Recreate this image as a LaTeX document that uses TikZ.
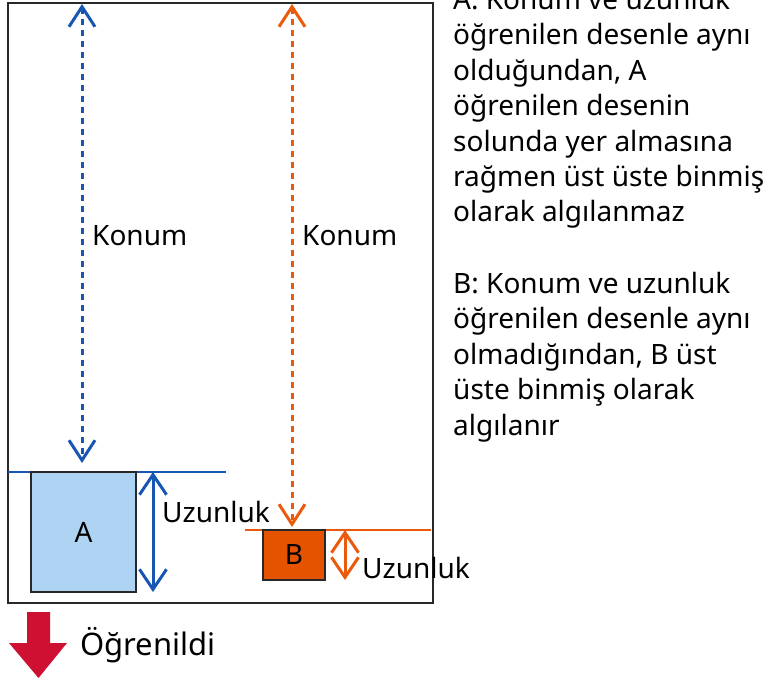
\documentclass[tikz,border=0pt]{standalone}
\usepackage{fontspec}
\setmainfont{Noto Sans}
\usetikzlibrary{arrows.meta, positioning}
\definecolor{posblue}{RGB}{23,86,178}
\definecolor{lightblue}{RGB}{175,211,242}
\definecolor{posorange}{RGB}{234,90,12}
\definecolor{fillorange}{RGB}{229,83,0}
\definecolor{learnred}{RGB}{206,17,50}
\definecolor{framegray}{RGB}{40,40,40}
\tikzset{
  pos arrow/.style={
    {Straight Barb[length=20pt,width=26pt]}-{Straight Barb[length=20pt,width=26pt]},
    line width=3pt,
    dash pattern=on 6pt off 5pt
  },
  len arrow/.style={
    {Straight Barb[length=20pt,width=27pt]}-{Straight Barb[length=20pt,width=27pt]},
    line width=3pt
  },
  edge line/.style={
    line width=2.6pt
  },
  pattern box/.style={
    draw=framegray,
    line width=1.6pt,
    inner sep=0pt,
    font=\fontsize{28}{34}\selectfont
  },
  label text/.style={
    font=\fontsize{28}{34}\selectfont,
    inner sep=0pt
  },
  note text/.style={
    font=\fontsize{28}{35.4}\selectfont,
    align=left,
    inner sep=0pt
  }
}

\begin{document}
\begin{tikzpicture}[x=1pt, y=-1pt]
    \useasboundingbox (0,0) rectangle (779,679);
    % 外框
    \draw[framegray, line width=2.2pt] (8,3) rectangle (433,603);

    % 基准线
    \coordinate (blueLeft) at (8,472);
    \coordinate (blueRight) at (226,472);
    \coordinate (orangeLeft) at (245,530);
    \coordinate (orangeRight) at (431,530);
    \draw[edge line, posblue] (blueLeft) -- (blueRight);
    \draw[edge line, posorange] (orangeLeft) -- (orangeRight);

    % 图案 A 和 B
    \node[pattern box, fill=lightblue, minimum width=105pt, minimum height=120pt] (boxA) at (83.5,532) {A};
    \node[pattern box, fill=fillorange, minimum width=62pt, minimum height=50pt] (boxB) at (294,555) {B};

    % 位置箭头
    \coordinate (blueTop) at (82,4);
    \coordinate (blueBot) at (82,463);
    \draw[pos arrow, posblue] (blueTop) -- (blueBot);
    \node[label text, anchor=base west] (konumA) at (92,245) {Konum};

    \coordinate (orangeTop) at (292,4);
    \coordinate (orangeBot) at (292,527);
    \draw[pos arrow, posorange] (orangeTop) -- (orangeBot);
    \node[label text, anchor=base west] (konumB) at (302,245) {Konum};

    % 长度箭头
    \coordinate (lenATop) at (153,472);
    \coordinate (lenABot) at (153,592);
    \draw[len arrow, posblue] (lenATop) -- (lenABot);
    \node[label text, anchor=base west] (uzunA) at (162,522) {Uzunluk};

    \coordinate (lenBTop) at (345,530);
    \coordinate (lenBBot) at (345,580);
    \draw[len arrow, posorange] (lenBTop) -- (lenBBot);
    \node[label text, anchor=base west] (uzunB) at (362,578) {Uzunluk};

    % 说明文字（基线取最后一行）
    \node[note text, anchor=base west] (noteA) at (453,222) {A: Konum ve uzunluk\\öğrenilen desenle aynı\\olduğundan, A\\öğrenilen desenin\\solunda yer almasına\\rağmen üst üste binmiş\\olarak algılanmaz};
    \node[note text, anchor=base west] (noteB) at (453,435) {B: Konum ve uzunluk\\öğrenilen desenle aynı\\olmadığından, B üst\\üste binmiş olarak\\algılanır};

    % 方向箭头
    \fill[learnred] (27,612) -- (50,612) -- (50,643) -- (67,643) -- (38.5,678)
      -- (9,643) -- (27,643) -- cycle;
    \node[label text, font=\fontsize{31}{36}\selectfont, anchor=base west] (learned) at (80,655) {Öğrenildi};
  \end{tikzpicture}
\end{document}
